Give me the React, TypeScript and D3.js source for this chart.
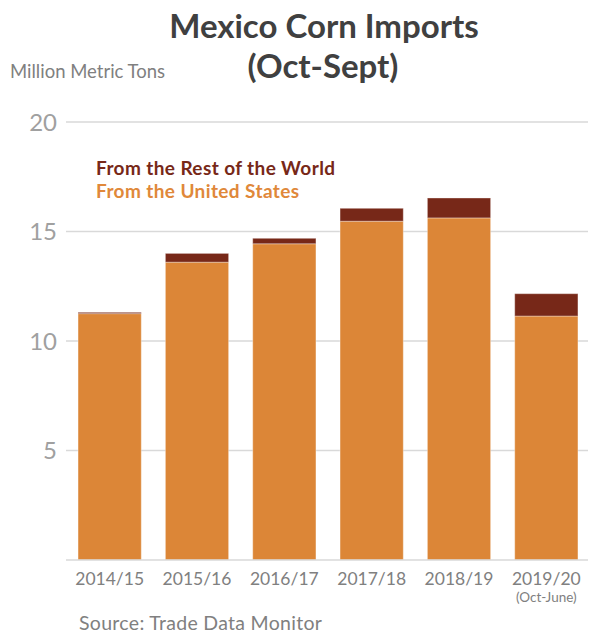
import React from "react";
import * as d3 from "d3";

const categories = ["2014/15", "2015/16", "2016/17", "2017/18", "2018/19", "2019/20"];
const fromUS = [11.25, 13.6, 14.44, 15.47, 15.62, 11.14];
const fromRest = [0.06, 0.4, 0.25, 0.59, 0.91, 1.02];
const yTicks = [5, 10, 15, 20];
const seriesNames = ["From the Rest of the World", "From the United States"];

const W = 589;
const H = 635;
const ORANGE = "#DC8637";
const DARK = "#772818";
const FONT = "Lato, 'Open Sans', sans-serif";

export default function App() {
  const x = d3
    .scaleBand<string>()
    .domain(categories)
    .range([66, 590])
    .paddingInner(0.276)
    .paddingOuter(0.138);
  const y = d3.scaleLinear().domain([0, 20]).range([560, 122]);

  const stackData = categories.map((c, i) => ({ cat: c, us: fromUS[i], rest: fromRest[i] }));
  const stacked = d3.stack<any>().keys(["us", "rest"])(stackData);
  const colors: Record<string, string> = { us: ORANGE, rest: DARK };

  return (
    <svg
      width={W}
      height={H}
      style={{ position: "absolute", left: 0, top: 0, background: "#fff" }}
      fontFamily={FONT}
    >
      <text x={324} y={38} textAnchor="middle" fontSize={33} fontWeight={700} fill="#404040">
        Mexico Corn Imports
      </text>
      <text x={323} y={78} textAnchor="middle" fontSize={33} fontWeight={700} fill="#404040">
        (Oct-Sept)
      </text>
      <text x={10} y={78} fontSize={18.5} fill="#808080">
        Million Metric Tons
      </text>

      {yTicks.map((t) => (
        <g key={t}>
          <line x1={66} x2={588} y1={y(t)} y2={y(t)} stroke="#d9d9d9" strokeWidth={1.5} />
          <text x={57} y={y(t) + 8.5} textAnchor="end" fontSize={24} fill="#a0a0a0">
            {t}
          </text>
        </g>
      ))}

      {stacked.map((layer) =>
        layer.map((d, i) => (
          <rect
            key={layer.key + i}
            x={x(categories[i])}
            width={x.bandwidth()}
            y={y(d[1])}
            height={y(d[0]) - y(d[1])}
            fill={colors[layer.key]}
            stroke="#ffffff"
            strokeOpacity={0.35}
            strokeWidth={1}
          />
        ))
      )}

      <line x1={66} x2={588} y1={y(0)} y2={y(0)} stroke="#d9d9d9" strokeWidth={1.5} />

      {categories.map((c) => (
        <text
          key={c}
          x={(x(c) as number) + x.bandwidth() / 2}
          y={585}
          textAnchor="middle"
          fontSize={17.5}
          fill="#808080"
        >
          {c}
        </text>
      ))}
      <text
        x={(x(categories[5]) as number) + x.bandwidth() / 2}
        y={602}
        textAnchor="middle"
        fontSize={13.5}
        fill="#808080"
      >
        (Oct-June)
      </text>

      <text x={96} y={175} fontSize={19} fontWeight={700} letterSpacing={0.4} fill={DARK}>
        {seriesNames[0]}
      </text>
      <text x={96} y={198} fontSize={19} fontWeight={700} letterSpacing={0.4} fill="#E0883A">
        {seriesNames[1]}
      </text>

      <text x={79} y={630} fontSize={19.5} letterSpacing={0.3} fill="#808080">
        Source: Trade Data Monitor
      </text>
    </svg>
  );
}
